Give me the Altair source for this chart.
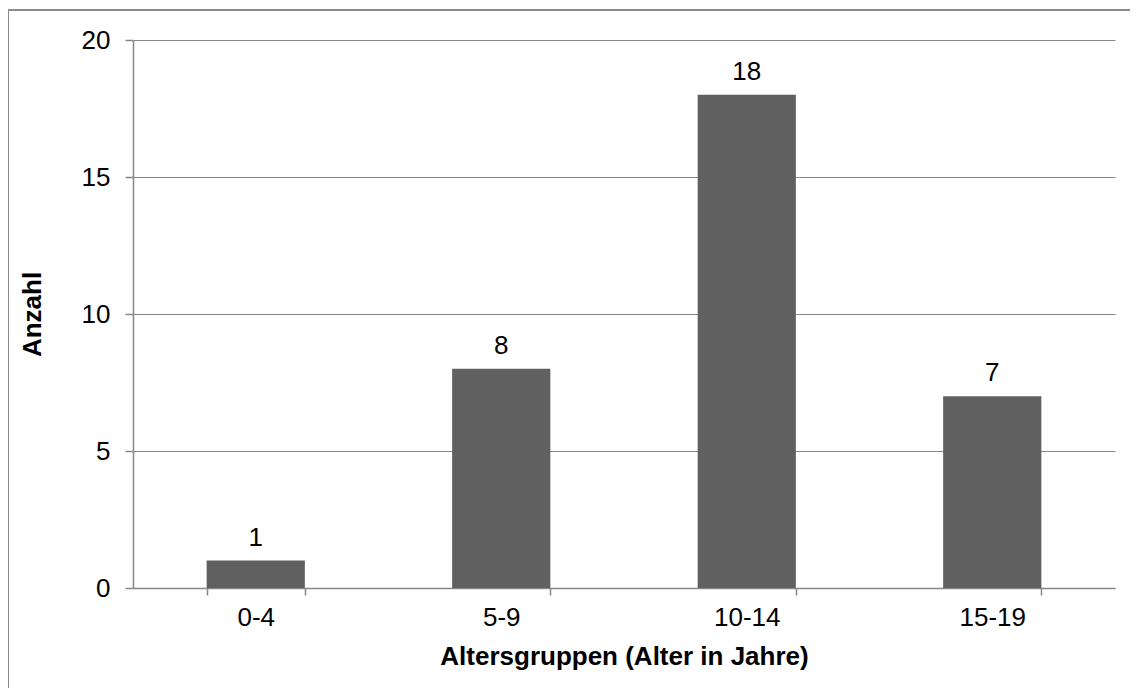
import altair as alt
import pandas as pd

categories = ["0-4", "5-9", "10-14", "15-19"]
counts = [1, 8, 18, 7]

df = pd.DataFrame({"gruppe": categories, "anzahl": counts})

FONT = "Liberation Sans"
GRID = "#878787"
BAR = "#606060"

x_enc = alt.X(
    "gruppe:N",
    sort=categories,
    scale=alt.Scale(paddingInner=0.6, paddingOuter=0.3),
    axis=alt.Axis(
        title="Altersgruppen (Alter in Jahre)",
        labelAngle=0,
        tickBand="extent",
        tickSize=7,
        tickColor=GRID,
        domainColor=GRID,
        labelPadding=9,
        titlePadding=13,
    ),
)
y_enc = alt.Y(
    "anzahl:Q",
    scale=alt.Scale(domain=[0, 20]),
    axis=alt.Axis(
        title="Anzahl",
        values=[0, 5, 10, 15, 20],
        grid=True,
        gridColor=GRID,
        tickSize=8,
        tickColor=GRID,
        domainColor=GRID,
        labelPadding=15,
        titlePadding=36,
    ),
)

bars = alt.Chart(df).mark_bar(color=BAR).encode(x=x_enc, y=y_enc)
labels = alt.Chart(df).mark_text(
    baseline="bottom", dy=-10, font=FONT, fontSize=26, color="#000000"
).encode(x=alt.X("gruppe:N", sort=categories), y="anzahl:Q", text="anzahl:Q")

border = alt.Chart(df).mark_rect(
    fill=None, stroke="#8c8c8c", strokeWidth=1.5
).encode(
    x=alt.value(-125), x2=alt.value(1100), y=alt.value(-30), y2=alt.value(800)
)

chart = (
    alt.layer(border, bars, labels)
    .properties(
        width=982,
        height=548,
        padding={"left": 125, "top": 32, "right": 15, "bottom": 100},
        autosize=alt.AutoSizeParams(type="none"),
        background="white",
    )
    .configure_view(stroke=None)
    .configure_axis(
        labelFont=FONT,
        labelFontSize=26,
        labelColor="#000000",
        titleFont=FONT,
        titleFontSize=26,
        titleFontWeight="bold",
        titleColor="#000000",
        domainWidth=1.5,
        tickWidth=1.5,
        gridWidth=1.2,
    )
)

chart.save("out.html", embed_options={"renderer": "svg", "actions": False})
